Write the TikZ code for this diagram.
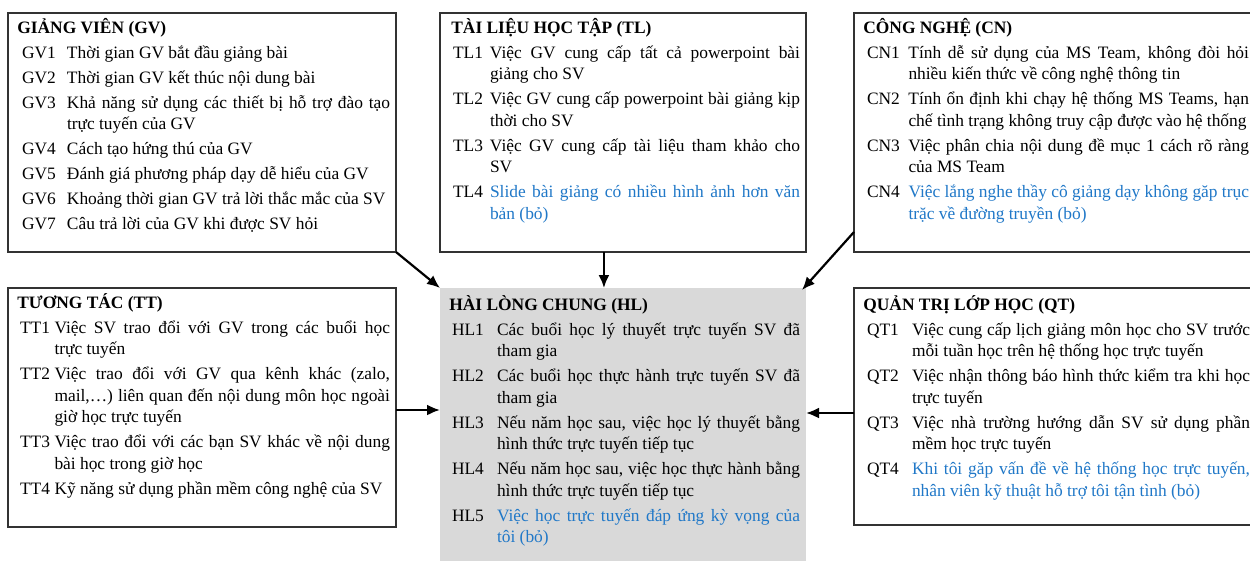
\documentclass[tikz,border=0pt]{standalone}
\usepackage{fontspec}
\setmainfont{Liberation Serif}
\usetikzlibrary{arrows.meta,calc}

\definecolor{dropblue}{RGB}{32,120,200}
\definecolor{hlgray}{RGB}{217,217,217}
\definecolor{frame}{RGB}{50,50,50}

% label column geometry, set per box
\newlength{\lblx}
\newlength{\lblw}
\newcommand{\grouphead}[1]{\noindent\rule{0pt}{16pt}\textbf{#1}\par}
\newcommand{\itm}[2]{{\leftskip=\lblx\hangindent=\lblw\hangafter=1
  \noindent\makebox[\lblw][l]{#1}#2\par}}
\newcommand{\boxfont}{\fontsize{17.4}{21.5}\selectfont\parskip=3.5pt
  \rightskip=0pt\parfillskip=0pt plus 1fil\hbadness=10000\hfuzz=20pt}

\tikzset{
  grp/.style={draw=frame, line width=1.3pt, rectangle, inner sep=0pt, outer sep=0pt, anchor=north west},
  outcome/.style={fill=hlgray, rectangle, inner sep=0pt, outer sep=0pt, anchor=north west},
  txt/.style={inner sep=0pt, outer sep=0pt, anchor=north west, align=justify},
  link/.style={line width=2.2pt, -{Latex[length=13pt,width=11pt]}}
}

\begin{document}
\begin{tikzpicture}[x=1pt,y=-1pt]
\clip (0,0) rectangle (1250,560);
\fill[white] (0,0) rectangle (1250,560);

% frames
\node[grp, minimum width=388pt, minimum height=239pt] (GV) at (8,13) {};
\node[grp, minimum width=366pt, minimum height=239pt] (TL) at (440,13) {};
\node[grp, minimum width=410pt, minimum height=239pt] (CN) at (854,13) {};
\node[grp, minimum width=388pt, minimum height=239pt] (TT) at (8,288) {};
\node[outcome, minimum width=366pt, minimum height=290pt] (HL) at (440,288) {};
\node[grp, minimum width=410pt, minimum height=237pt] (QT) at (854,288) {};

% GIẢNG VIÊN
\node[txt, text width=377pt] (GVt) at ($(GV.north west)+(5,4)$) {\boxfont
  \setlength{\lblx}{9pt}\setlength{\lblw}{45pt}
  \grouphead{GIẢNG VIÊN (GV)}
  \itm{GV1}{Thời gian GV bắt đầu giảng bài}
  \itm{GV2}{Thời gian GV kết thúc nội dung bài}
  \itm{GV3}{Khả năng sử dụng các thiết bị hỗ trợ đào tạo\linebreak trực tuyến của GV}
  \itm{GV4}{Cách tạo hứng thú của GV}
  \itm{GV5}{Đánh giá phương pháp dạy dễ hiểu của GV}
  \itm{GV6}{Khoảng thời gian GV trả lời thắc mắc của SV}
  \itm{GV7}{Câu trả lời của GV khi được SV hỏi}};

% TÀI LIỆU HỌC TẬP
\node[txt, text width=353pt] (TLt) at ($(TL.north west)+(7,4)$) {\boxfont
  \setlength{\lblx}{6pt}\setlength{\lblw}{37pt}
  \grouphead{TÀI LIỆU HỌC TẬP (TL)}
  \itm{TL1}{Việc GV cung cấp tất cả powerpoint bài\linebreak giảng cho SV}
  \itm{TL2}{Việc GV cung cấp powerpoint bài giảng kịp\linebreak thời cho SV}
  \itm{TL3}{Việc GV cung cấp tài liệu tham khảo cho\linebreak SV}
  \itm{TL4}{\color{dropblue}Slide bài giảng có nhiều hình ảnh hơn văn\linebreak bản (bỏ)}};

% CÔNG NGHỆ
\node[txt, text width=390pt] (CNt) at ($(CN.north west)+(5,4)$) {\boxfont
  \setlength{\lblx}{8pt}\setlength{\lblw}{41.5pt}
  \grouphead{CÔNG NGHỆ (CN)}
  \itm{CN1}{Tính dễ sử dụng của MS Team, không đòi hỏi\linebreak nhiều kiến thức về công nghệ thông tin}
  \itm{CN2}{Tính ổn định khi chạy hệ thống MS Teams, hạn\linebreak chế tình trạng không truy cập được vào hệ thống}
  \itm{CN3}{Việc phân chia nội dung đề mục 1 cách rõ ràng\linebreak của MS Team}
  \itm{CN4}{\color{dropblue}Việc lắng nghe thầy cô giảng dạy không găp trục\linebreak trặc về đường truyền (bỏ)}};

% TƯƠNG TÁC
\node[txt, text width=377pt] (TTt) at ($(TT.north west)+(5,4)$) {\boxfont
  \setlength{\lblx}{7pt}\setlength{\lblw}{34.5pt}
  \grouphead{TƯƠNG TÁC (TT)}
  \itm{TT1}{Việc SV trao đổi với GV trong các buổi học\linebreak trực tuyến}
  \itm{TT2}{Việc trao đổi với GV qua kênh khác (zalo,\linebreak mail,…) liên quan đến nội dung môn học ngoài\linebreak giờ học trực tuyến}
  \itm{TT3}{Việc trao đổi với các bạn SV khác về nội dung\linebreak bài học trong giờ học}
  \itm{TT4}{Kỹ năng sử dụng phần mềm công nghệ của SV}};

% HÀI LÒNG CHUNG
\node[txt, text width=355pt] (HLt) at ($(HL.north west)+(5,6)$) {\boxfont
  \setlength{\lblx}{7pt}\setlength{\lblw}{45pt}
  \grouphead{HÀI LÒNG CHUNG (HL)}
  \itm{HL1}{Các buổi học lý thuyết trực tuyến SV đã\linebreak tham gia}
  \itm{HL2}{Các buổi học thực hành trực tuyến SV đã\linebreak tham gia}
  \itm{HL3}{Nếu năm học sau, việc học lý thuyết bằng\linebreak hình thức trực tuyến tiếp tục}
  \itm{HL4}{Nếu năm học sau, việc học thực hành bằng\linebreak hình thức trực tuyến tiếp tục}
  \itm{HL5}{\color{dropblue}Việc học trực tuyến đáp ứng kỳ vọng của\linebreak tôi (bỏ)}};

% QUẢN TRỊ LỚP HỌC
\node[txt, text width=391pt] (QTt) at ($(QT.north west)+(5,6)$) {\boxfont
  \setlength{\lblx}{8pt}\setlength{\lblw}{45pt}
  \grouphead{QUẢN TRỊ LỚP HỌC (QT)}
  \itm{QT1}{Việc cung cấp lịch giảng môn học cho SV trước\linebreak mỗi tuần học trên hệ thống học trực tuyến}
  \itm{QT2}{Việc nhận thông báo hình thức kiểm tra khi học\linebreak trực tuyến}
  \itm{QT3}{Việc nhà trường hướng dẫn SV sử dụng phần\linebreak mềm học trực tuyến}
  \itm{QT4}{\color{dropblue}Khi tôi găp vấn đề về hệ thống học trực tuyến,\linebreak nhân viên kỹ thuật hỗ trợ tôi tận tình (bỏ)}};

% connectors into the outcome block
\coordinate (TLout) at ($(TL.south west)!0.448!(TL.south east)$);
\coordinate (HLtop) at ($(HL.north west)!0.448!(HL.north east)$);
\coordinate (CNout) at ($(CN.south west)+(0,-20)$);
\coordinate (TTout) at ($(TT.north east)+(0,122)$);
\coordinate (QTout) at ($(QT.north west)+(0,125)$);

\draw[link] (GV.south east) -- (HL.north west);
\draw[link] (TLout) -- (HLtop);
\draw[link] (CNout) -- ($(HL.north east)+(-4,2)$);
\draw[link] (TTout) -- (TTout -| HL.west);
\draw[link] (QTout) -- (QTout -| HL.east);
\end{tikzpicture}
\end{document}
